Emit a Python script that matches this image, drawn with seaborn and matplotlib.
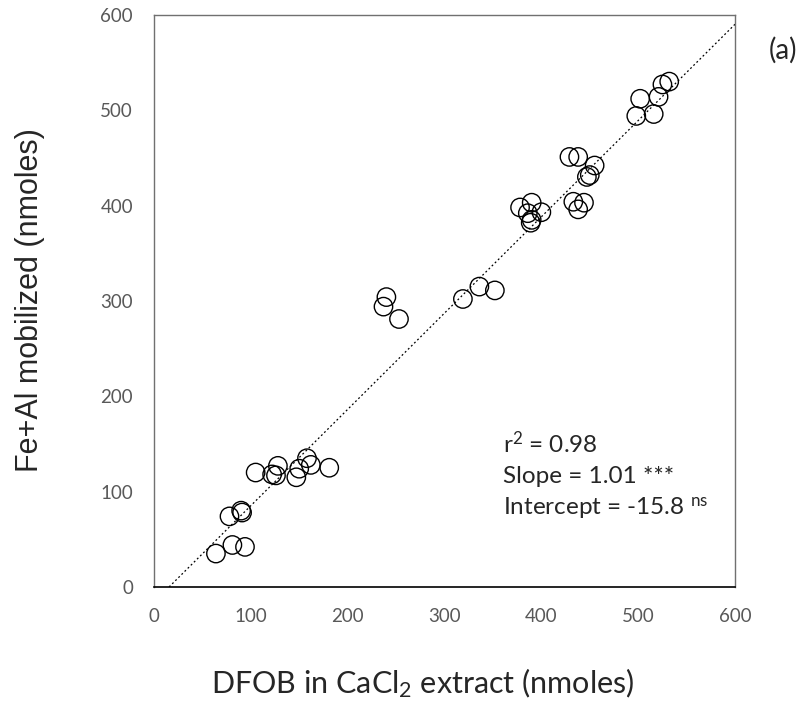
import numpy as np
import pandas as pd
import seaborn as sns
import matplotlib
matplotlib.use("Agg")
import matplotlib.pyplot as plt

# DFOB in CaCl2 extract vs Fe+Al mobilized (nmoles)
dfob = [64, 81, 94, 78, 90, 91, 105, 122, 126, 128, 147, 150, 158, 162, 181,
        237, 240, 253, 319, 336, 352,
        378, 390, 400, 386, 390, 389, 433, 444, 438, 447, 450, 455, 429, 438,
        502, 498, 516, 521, 525, 532]
feal = [35, 44, 42, 74, 80, 78, 120, 118, 117, 127, 115, 124, 135, 128, 125,
        294, 304, 281, 302, 315, 311,
        398, 403, 393, 392, 385, 382, 404, 403, 396, 430, 432, 442, 451, 451,
        512, 494, 496, 514, 527, 530]

# regression stats shown on the chart
r2 = 0.98
slope = 1.01
intercept = -15.8

ticks = [0, 100, 200, 300, 400, 500, 600]

df = pd.DataFrame({"DFOB": dfob, "FeAl": feal})

sns.set_style("white")
plt.rcParams["font.family"] = ["Lato", "DejaVu Sans"]
plt.rcParams["mathtext.fontset"] = "custom"
plt.rcParams["mathtext.rm"] = "Lato"

fig = plt.figure(figsize=(8.06, 7.08), dpi=100)
ax = fig.add_axes([0.191, 0.171, 0.721, 0.808])

sns.scatterplot(data=df, x="DFOB", y="FeAl", ax=ax, marker="o", s=175,
                facecolors="none", edgecolors="black", linewidth=1.0)

# fitted line
ax.axline((0, intercept), slope=slope, color="black", linestyle=(0, (1.5, 2)),
          linewidth=0.9)

ax.set_xlim(0, 600)
ax.set_ylim(0, 600)
ax.set_xticks(ticks)
ax.set_yticks(ticks)
ax.tick_params(axis="both", length=0, labelsize=13.5, labelcolor="#595959", pad=15)

for side in ["left", "top", "right"]:
    ax.spines[side].set_color("#707070")
    ax.spines[side].set_linewidth(1.0)
ax.spines["bottom"].set_color("black")
ax.spines["bottom"].set_linewidth(1.2)

ax.set_xlabel(r"DFOB in CaCl$\mathregular{_2}$ extract (nmoles)", fontsize=22,
              va="center")
ax.xaxis.set_label_coords(0.463, -0.168)
ax.set_ylabel("Fe+Al mobilized (nmoles)", fontsize=22, va="center",
              family=["Liberation Sans", "DejaVu Sans"])
ax.yaxis.set_label_coords(-0.213, 0.501)

ax.text(0.60, 0.250, r"r$\mathregular{^2}$ = %.2f" % r2, transform=ax.transAxes,
        fontsize=17.5, va="center")
ax.text(0.60, 0.193, "Slope = %.2f ***" % slope, transform=ax.transAxes,
        fontsize=17.5, va="center")
ax.text(0.60, 0.138, r"Intercept = %.1f $\mathregular{^{ns}}$" % intercept,
        transform=ax.transAxes, fontsize=17.5, va="center")

fig.text(0.971, 0.929, "(a)", fontsize=20, ha="center", va="center")

fig.savefig("out.png", dpi=100)
